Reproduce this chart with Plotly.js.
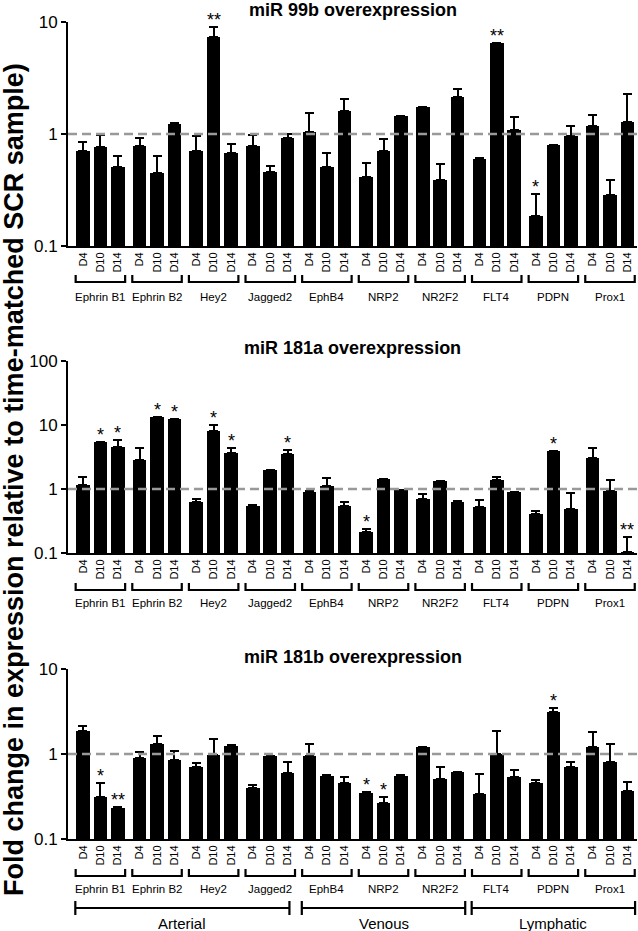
<!DOCTYPE html>
<html>
<head>
<meta charset="utf-8">
<script src="https://cdn.plot.ly/plotly-3.0.1.min.js"></script>
<style>
  html, body { margin: 0; padding: 0; background: #fff; }
  #chart { width: 638px; height: 931px; }
</style>
</head>
<body>
<div id="chart"></div>
<script>
// genes, time points and groups
var genes = ['Ephrin B1', 'Ephrin B2', 'Hey2', 'Jagged2', 'EphB4', 'NRP2', 'NR2F2', 'FLT4', 'PDPN', 'Prox1'];
var days = ['D4', 'D10', 'D14'];
var groups = ['Arterial', 'Venous', 'Lymphatic'];
var groupGenes = [[0, 3], [4, 6], [7, 9]];

// fold change (mean) per gene x day, and upper error (SEM)
var mir99b = [0.70, 0.76, 0.51, 0.78, 0.445, 1.24, 0.70, 7.4, 0.68, 0.78, 0.46, 0.93,
  1.05, 0.51, 1.60, 0.41, 0.70, 1.45, 1.73, 0.39, 2.13, 0.60, 6.45, 1.09,
  0.185, 0.79, 0.95, 1.18, 0.285, 1.29];
var mir99bErr = [0.15, 0.22, 0.12, 0.14, 0.195, 0.01, 0.26, 1.57, 0.13, 0.20, 0.06, 0.08,
  0.48, 0.16, 0.44, 0.14, 0.20, 0.01, 0.01, 0.15, 0.39, 0.01, 0.05, 0.34,
  0.105, 0.01, 0.23, 0.29, 0.105, 0.99];
var mir99bSig = ['', '', '', '', '', '', '', '**', '', '', '', '', '', '', '',
  '', '', '', '', '', '', '', '**', '', '*', '', '', '', '', ''];

var mir181a = [1.15, 5.47, 4.57, 2.83, 13.4, 12.2, 0.62, 8.03, 3.69, 0.55, 1.98, 3.48,
  0.91, 1.13, 0.54, 0.21, 1.42, 0.96, 0.71, 1.33, 0.63, 0.53, 1.38, 0.89,
  0.41, 3.92, 0.49, 3.08, 0.94, 0.105];
var mir181aErr = [0.37, 0.05, 1.23, 1.47, 0.1, 0.1, 0.08, 1.93, 0.61, 0.01, 0.02, 0.58,
  0.01, 0.34, 0.09, 0.025, 0.01, 0.01, 0.12, 0.02, 0.01, 0.14, 0.18, 0.02,
  0.05, 0.03, 0.37, 1.33, 0.44, 0.071];
var mir181aSig = ['', '*', '*', '', '*', '*', '', '*', '*', '', '', '*', '', '', '',
  '*', '', '', '', '', '', '', '', '', '', '*', '', '', '', '**'];

var mir181b = [1.88, 0.315, 0.23, 0.89, 1.31, 0.86, 0.70, 0.97, 1.25, 0.40, 0.94, 0.60,
  0.955, 0.556, 0.456, 0.35, 0.265, 0.556, 1.2, 0.51, 0.61, 0.34, 1.0, 0.53,
  0.45, 3.15, 0.70, 1.2, 0.80, 0.364];
var mir181bErr = [0.27, 0.14, 0.005, 0.16, 0.30, 0.23, 0.08, 0.53, 0.01, 0.035, 0.01, 0.21,
  0.355, 0.005, 0.074, 0.005, 0.045, 0.005, 0.01, 0.19, 0.01, 0.24, 0.88, 0.12,
  0.05, 0.33, 0.11, 0.63, 0.51, 0.10];
var mir181bSig = ['', '*', '**', '', '', '', '', '', '', '', '', '', '', '', '',
  '*', '*', '', '', '', '', '', '', '', '', '*', '', '', '', ''];

var FONT = 'Liberation Sans, Arial, Helvetica, sans-serif';
var H = 931;
function py(px) { return 1 - px / H; }

// x positions: 3 bars per gene, small gap between genes
var step = 3.25;
var xpos = [], xtext = [];
genes.forEach(function (g, gi) {
  days.forEach(function (d, di) { xpos.push(gi * step + di); xtext.push(d); });
});

var panels = [
  { name: 'miR 99b overexpression', y: mir99b, err: mir99bErr, sig: mir99bSig,
    dom: [py(246), py(22)], range: [-1, 1], title: 10, bracket: 282, label: 297 },
  { name: 'miR 181a overexpression', y: mir181a, err: mir181aErr, sig: mir181aSig,
    dom: [py(553), py(361)], range: [-1, 2], title: 348, bracket: 590, label: 603 },
  { name: 'miR 181b overexpression', y: mir181b, err: mir181bErr, sig: mir181bSig,
    dom: [py(839), py(669)], range: [-1, 1], title: 657, bracket: 876, label: 889 }
];

var traces = [];
var layout = {
  width: 638, height: 931,
  margin: { l: 68, r: 1, t: 0, b: 0 },
  paper_bgcolor: '#fff', plot_bgcolor: '#fff',
  font: { family: FONT, color: '#000' },
  showlegend: false,
  bargap: 0,
  shapes: [], annotations: []
};

panels.forEach(function (p, k) {
  var s = k === 0 ? '' : String(k + 1);
  traces.push({
    type: 'bar', x: xpos, y: p.y, width: 0.78,
    xaxis: 'x' + s, yaxis: 'y' + s,
    marker: { color: '#000', line: { width: 0 } },
    error_y: { type: 'data', symmetric: false, array: p.err,
      arrayminus: p.err.map(function () { return 0; }),
      color: '#000', thickness: 2, width: 4.5 },
    hoverinfo: 'x+y'
  });
  var tv = [0.1, 1, 10, 100].slice(0, p.range[1] + 2);
  layout['xaxis' + s] = {
    domain: [0, 1], anchor: 'y' + s, range: [-0.86, 31.8],
    showline: true, linewidth: 2, linecolor: '#000', mirror: false,
    showgrid: false, zeroline: false, ticks: '',
    tickmode: 'array', tickvals: xpos, ticktext: xtext, tickangle: -90,
    tickfont: { size: 11, family: FONT, color: '#000' }
  };
  layout['yaxis' + s] = {
    domain: p.dom, anchor: 'x' + s, type: 'log', range: p.range,
    showline: true, linewidth: 2, linecolor: '#000',
    showgrid: false, zeroline: false,
    ticks: 'outside', ticklen: 5, tickwidth: 2, tickcolor: '#000',
    tickmode: 'array', tickvals: tv, ticktext: tv.map(String),
    tickfont: { size: 17, family: FONT, color: '#000' }
  };
  // reference line at fold change = 1
  layout.shapes.push({
    type: 'line', xref: 'paper', yref: 'y' + s, x0: 0, x1: 1, y0: 1, y1: 1,
    line: { color: '#999', width: 2.5, dash: '9px,5px' }, layer: 'above'
  });
  // panel title
  layout.annotations.push({
    xref: 'paper', yref: 'paper', x: 0.5, y: py(p.title), yanchor: 'middle',
    text: '<b>' + p.name + '</b>', showarrow: false,
    font: { size: 18, family: FONT, color: '#000' }
  });
  // gene brackets and labels
  genes.forEach(function (g, gi) {
    var x0 = gi * step - 0.42, x1 = gi * step + 2.42;
    var yb = py(p.bracket), yt = py(p.bracket - 7);
    layout.shapes.push({
      type: 'path', xref: 'x' + s, yref: 'paper',
      path: 'M' + x0 + ',' + yt + ' L' + x0 + ',' + yb + ' L' + x1 + ',' + yb + ' L' + x1 + ',' + yt,
      line: { color: '#000', width: 2.2 }
    });
    layout.annotations.push({
      xref: 'x' + s, yref: 'paper', x: gi * step + 1, y: py(p.label), yanchor: 'middle',
      text: g, showarrow: false, font: { size: 11.5, family: FONT, color: '#000' }
    });
  });
  // significance stars
  p.sig.forEach(function (t, i) {
    if (!t) return;
    layout.annotations.push({
      xref: 'x' + s, yref: 'y' + s, x: xpos[i], y: Math.log10(p.y[i] + p.err[i]),
      yanchor: 'bottom', yshift: -5, text: t, showarrow: false,
      font: { size: 18, family: FONT, color: '#000' }
    });
  });
});

// Arterial / Venous / Lymphatic brackets under the last panel
groups.forEach(function (name, k) {
  var x0 = groupGenes[k][0] * step - 0.44;
  var x1 = groupGenes[k][1] * step + 2.44;
  if (k === 0) x1 = groupGenes[k][1] * step + 2.1;
  var y = py(908), ya = py(901), yb = py(915);
  layout.shapes.push({
    type: 'path', xref: 'x3', yref: 'paper',
    path: 'M' + x0 + ',' + ya + ' L' + x0 + ',' + yb + ' M' + x0 + ',' + y + ' L' + x1 + ',' + y +
      ' M' + x1 + ',' + ya + ' L' + x1 + ',' + yb,
    line: { color: '#000', width: 2.2 }
  });
  layout.annotations.push({
    xref: 'x3', yref: 'paper', x: (x0 + x1) / 2, y: py(923), yanchor: 'middle',
    text: name, showarrow: false, font: { size: 15, family: FONT, color: '#000' }
  });
});

// shared y axis title
layout.annotations.push({
  xref: 'paper', yref: 'paper', x: (14 - 68) / 569, y: py(480),
  xanchor: 'center', yanchor: 'middle', textangle: -90,
  text: '<b>Fold change in expression relative to time-matched SCR sample)</b>',
  showarrow: false, font: { size: 27, family: FONT, color: '#000' }
});

Plotly.newPlot('chart', traces, layout, { displayModeBar: false, staticPlot: true });
</script>
</body>
</html>
